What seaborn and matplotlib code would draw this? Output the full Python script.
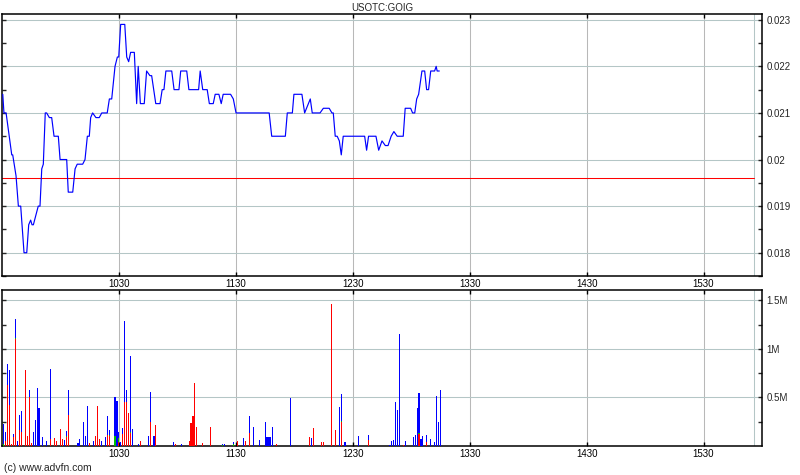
import matplotlib
matplotlib.use("Agg")
import matplotlib.pyplot as plt
import seaborn as sns
import numpy as np

# ---------------- data ----------------
title = "USOTC:GOIG"
hour_ticks = [60, 120, 180, 240, 300, 360]          # minutes after 09:30
hour_labels = ["1030", "1130", "1230", "1330", "1430", "1530"]
prev_close = 0.0196

price_minute = [0.4, 1.0, 2.1, 5.0, 5.5, 7.2, 8.4, 9.6, 11.3, 12.7, 13.7, 14.7, 15.4, 16.1,
                18.6, 19.5, 20.4, 21.2, 22.2, 22.9, 24.3, 25.5, 26.7, 28.9, 29.8, 33.2, 34.0,
                36.3, 37.5, 38.6, 41.4, 42.6, 43.8, 44.8, 45.5, 46.5, 48.2, 49.9, 51.2, 54.0,
                55.1, 56.3, 58.0, 59.2, 59.9, 60.9, 63.0, 64.0, 65.0, 66.0, 67.9, 69.1, 69.9,
                71.0, 73.0, 74.2, 75.9, 76.8, 78.9, 81.1, 82.2, 83.1, 84.1, 87.1, 88.3, 90.8,
                91.7, 94.8, 95.9, 100.9, 101.7, 103.0, 105.3, 106.4, 108.4, 109.4, 111.3, 112.5,
                113.5, 117.3, 118.7, 120.1, 137.1, 138.4, 145.4, 146.4, 149.0, 149.8, 153.9,
                155.3, 158.2, 159.2, 163.2, 164.9, 167.9, 169.3, 170.0, 171.0, 172.0, 173.1,
                174.1, 175.1, 186.1, 187.1, 188.1, 191.9, 193.3, 195.0, 196.7, 198.1, 199.7,
                201.1, 202.8, 205.9, 206.9, 209.7, 210.7, 211.8, 212.8, 213.8, 215.5, 216.9,
                217.9, 218.9, 220.0, 222.0, 222.8, 223.3, 224.4]
price_value = [0.0214, 0.0210, 0.0210, 0.0201, 0.0201, 0.01965, 0.0190, 0.0190, 0.0180, 0.0180,
               0.0186, 0.0187, 0.0186, 0.0186, 0.0190, 0.0190, 0.0198, 0.0199, 0.0210, 0.0210,
               0.0209, 0.0209, 0.0205, 0.0205, 0.0200, 0.0200, 0.0193, 0.0193, 0.0198, 0.0199,
               0.0199, 0.0200, 0.0205, 0.0205, 0.0209, 0.0210, 0.0209, 0.0209, 0.0210, 0.0210,
               0.0213, 0.0213, 0.0220, 0.0222, 0.0222, 0.0229, 0.0229, 0.0222, 0.0221, 0.0223,
               0.0223, 0.0212, 0.0220, 0.0212, 0.0212, 0.0219, 0.0218, 0.0218, 0.0212, 0.0212,
               0.0215, 0.0215, 0.0219, 0.0219, 0.0215, 0.0215, 0.0219, 0.0219, 0.0215, 0.0215,
               0.0219, 0.0215, 0.0215, 0.0212, 0.0212, 0.0214, 0.0214, 0.0212, 0.0214, 0.0214,
               0.0213, 0.0210, 0.0210, 0.0205, 0.0205, 0.0210, 0.0210, 0.0214, 0.0214, 0.0210,
               0.0213, 0.0210, 0.0210, 0.0211, 0.0211, 0.0210, 0.0210, 0.0205, 0.0205, 0.0204,
               0.0201, 0.0205, 0.0205, 0.0202, 0.0205, 0.0205, 0.0202, 0.0204, 0.0203, 0.0203,
               0.0205, 0.0206, 0.0205, 0.0205, 0.0211, 0.0211, 0.0210, 0.0210, 0.0213, 0.0214,
               0.0219, 0.0219, 0.0215, 0.0215, 0.0219, 0.0219, 0.0220, 0.0219, 0.0219]

vol_minute = [1, 2, 3, 4, 5, 6, 7, 8, 9, 10,
              12, 13, 14, 15, 16, 17, 18, 19, 21, 23,
              25, 27, 28, 30, 31, 32, 33, 34, 39, 40,
              42, 43, 44, 45, 47, 48, 49, 50, 51, 53,
              54, 55, 58, 59, 60, 61, 62, 63, 64, 65,
              66, 67, 70, 71, 75, 76, 78, 79, 88, 89,
              92, 96, 97, 98, 99, 100, 103, 107, 113, 114,
              119, 121, 124, 125, 127, 129, 132, 135, 136, 137,
              138, 139, 141, 148, 158, 159, 160, 164, 165, 169,
              171, 173, 174, 176, 183, 188, 199, 200, 201, 202,
              203, 204, 206, 207, 211, 212, 213, 214, 215, 216,
              218, 220, 222, 223, 224, 225]
vol_red = [0, .05, .63, .42, .02, .09, 1.10, 0, .16, .14,
           .78, .10, .50, .03, 0, 0, 0, 0, 0, 0,
           .07, .08, .05, .17, .07, 0, .09, .32, 0, 0,
           0, 0, 0, .03, 0, .10, .41, .07, 0, 0,
           .11, .10, 0, 0, .04, 0, .12, .45, .45, .34,
           .13, 0, 0, .05, 0, .25, 0, .22, 0, .02,
           0, .05, .24, .31, .65, .20, .03, .20, 0, 0,
           0, .05, 0, .05, .13, 0, 0, 0, 0, 0,
           0, 0, .02, 0, .09, 0, .19, .04, .04, 1.46,
           .16, 0, .25, 0, 0, .06, 0, 0, 0, 0,
           0, 0, .01, 0, 0, 0, 0, .12, 0, 0,
           .04, 0, 0, 0, 0, 0]
vol_green = [.02, 0, 0, 0, 0, 0, .01, 0, 0, 0,
             0, 0, .01, 0, 0, 0, 0, 0, 0, 0,
             0, 0, 0, 0, 0, 0, .01, 0, 0, 0,
             0, 0, 0, 0, 0, 0, 0, 0, 0, 0,
             0, .01, .10, 0, .04, 0, 0, 0, 0, 0,
             .01, 0, 0, 0, 0, 0, 0, 0, 0, 0,
             0, 0, 0, 0, 0, 0, 0, 0, .01, 0,
             .02, 0, 0, 0, 0, 0, 0, 0, 0, 0,
             0, 0, 0, 0, 0, 0, 0, 0, 0, 0,
             0, 0, .01, 0, 0, 0, 0, 0, 0, 0,
             0, 0, 0, 0, 0, 0, 0, .01, 0, 0,
             0, 0, 0, 0, 0, 0]
vol_blue = [.21, .09, .21, .36, 0, .03, .20, .05, .16, .22,
            0, 0, .07, 0, .14, .27, .60, .39, .09, .05,
            .72, 0, 0, 0, 0, .06, .05, .26, .03, .07,
            .25, .10, .41, 0, .05, 0, 0, 0, .05, .09,
            .20, .05, .40, .46, .06, .04, .07, .84, .13, 0,
            .79, .17, .02, 0, .10, .31, .10, 0, .04, 0,
            .02, 0, 0, 0, 0, 0, 0, 0, .01, .02,
            .02, 0, .08, 0, .18, .20, .06, .25, .09, .09,
            .09, .20, 0, .49, 0, .08, 0, 0, 0, 0,
            0, .40, .28, .04, .10, .05, .01, .05, .06, .45,
            .37, 1.15, 0, .05, .09, .11, .39, .42, .07, .10,
            .07, .07, .04, .52, .25, .58]
vol_ticks = [0.5, 1.0, 1.5]
vol_labels = ["0.5M", "1M", "1.5M"]
price_ticks = [0.018, 0.019, 0.020, 0.021, 0.022, 0.023]
price_labels = ["0.018", "0.019", "0.02", "0.021", "0.022", "0.023"]

# ---------------- style ----------------
sns.set_style("white")
plt.rcParams["font.family"] = ["Liberation Sans", "DejaVu Sans"]
plt.rcParams["font.size"] = 7

HGRID = "#b4c6c6"
VGRID = "#b8b8b8"
THIN = 0.75

fig = plt.figure(figsize=(8, 4.75), dpi=100)
ax1 = fig.add_axes([0.0025, 0.4189, 0.95, 0.5516])
ax2 = fig.add_axes([0.0025, 0.0611, 0.95, 0.3284])

XMIN, XMAX = 0, 390
END_LINE = 386

for ax in (ax1, ax2):
    ax.set_xlim(XMIN, XMAX)
    for t in hour_ticks:
        ax.axvline(t, color=VGRID, lw=THIN, zorder=0)
    ax.axvline(END_LINE, color=HGRID, lw=THIN, zorder=0)
    for s in ax.spines.values():
        s.set_color("black")
        s.set_linewidth(1.1)
    ax.set_xticks(hour_ticks)
    ax.set_xticklabels(hour_labels)
    ax.tick_params(axis="x", which="major", direction="in", length=3, width=1,
                   top=True, bottom=True, labelsize=7, pad=2, colors="black")

# ---- price panel ----
ax1.set_ylim(0.017733, 0.023123)
for v in price_ticks:
    ax1.axhline(v, color=HGRID, lw=THIN, zorder=0)
ax1.axhline(prev_close, color="#ff0000", lw=THIN, xmax=END_LINE / XMAX, zorder=2)
sns.lineplot(x=price_minute, y=price_value, ax=ax1, color="#0000ff", lw=0.85,
             sort=False, estimator=None, zorder=3)
ax1.set_yticks(price_ticks)
ax1.set_yticklabels(price_labels)
ax1.set_yticks(np.arange(0.0175, 0.0235, 0.001), minor=True)
ax1.tick_params(axis="y", which="both", left=True, right=True, labelleft=False,
                labelright=True, direction="in", length=3, width=1, labelsize=7, pad=3)
ax1.set_title(title, fontsize=7, pad=2)
ax1.set_xlabel("")
ax1.set_ylabel("")

# ---- volume panel ----
ax2.set_ylim(0, 1.608)
for v in vol_ticks:
    ax2.axhline(v, color=HGRID, lw=THIN, zorder=0)
xm = np.array(vol_minute, dtype=float)
r = np.array(vol_red)
g = np.array(vol_green)
b = np.array(vol_blue)
W = 0.55
ax2.bar(xm, r, width=W, color="#ff0000", linewidth=0, zorder=3)
ax2.bar(xm, g, width=W, bottom=r, color="#00c000", linewidth=0, zorder=3)
ax2.bar(xm, b, width=W, bottom=r + g, color="#0000ff", linewidth=0, zorder=3)
ax2.set_yticks(vol_ticks)
ax2.set_yticklabels(vol_labels)
ax2.set_yticks([0.25, 0.75, 1.25], minor=True)
ax2.tick_params(axis="y", which="both", left=True, right=True, labelleft=False,
                labelright=True, direction="in", length=3, width=1, labelsize=7, pad=3)
ax2.set_xlabel("")
ax2.set_ylabel("")

fig.text(0.005, 0.0147, "(c) www.advfn.com", fontsize=7.5, ha="left", va="center")

fig.savefig("out.png", dpi=100)
